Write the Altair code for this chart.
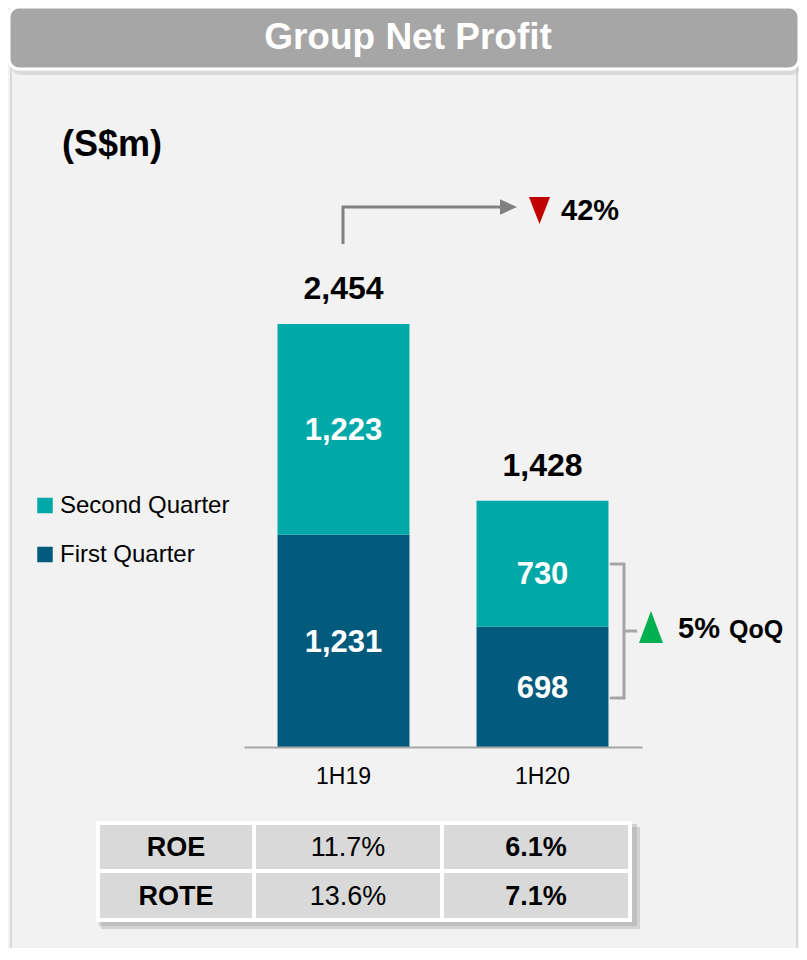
import altair as alt
import pandas as pd

# ---------------- data ----------------
periods = ["1H19", "1H20"]
first_quarter = [1231, 698]
second_quarter = [1223, 730]
totals = [2454, 1428]
series_names = ["Second Quarter", "First Quarter"]
series_colors = ["#00A8A8", "#025A7C"]
table_metrics = ["ROE", "ROTE"]
table_1h19 = ["11.7%", "13.6%"]
table_1h20 = ["6.1%", "7.1%"]
title_text = "Group Net Profit"
unit_text = "(S$m)"
yoy_text = "42%"
qoq_pct = "5%"
qoq_tag = "QoQ"

FONT = "Liberation Sans"

rows = []
for i, p in enumerate(periods):
    rows.append(dict(period=p, series="First Quarter", value=first_quarter[i], start=0))
    rows.append(dict(period=p, series="Second Quarter", value=second_quarter[i], start=first_quarter[i]))
df = pd.DataFrame(rows)
df["end"] = df["start"] + df["value"]
df["mid"] = df["start"] + df["value"] / 2
tot = pd.DataFrame({"period": periods, "total": totals})

# ---------------- layout ----------------
W, H = 398, 431
PAD = {"left": 236, "top": 308, "right": 157, "bottom": 201}


def px(X):
    return X - 8 - PAD["left"]


def py(Y):
    return Y - 8 - PAD["top"]


one = pd.DataFrame({"k": [0]})


def rect(X1, X2, Y1, Y2, **kw):
    return alt.Chart(one).mark_rect(**kw).encode(
        x=alt.value(px(X1)), x2=alt.value(px(X2)), y=alt.value(py(Y1)), y2=alt.value(py(Y2)))


def rule(X1, Y1, X2, Y2, **kw):
    return alt.Chart(one).mark_rule(**kw).encode(
        x=alt.value(px(X1)), y=alt.value(py(Y1)), x2=alt.value(px(X2)), y2=alt.value(py(Y2)))


def text(t, X, Y, **kw):
    kw.setdefault("font", FONT)
    kw.setdefault("baseline", "middle")
    return alt.Chart(one).mark_text(text=t, **kw).encode(x=alt.value(px(X)), y=alt.value(py(Y)))


def shape(path, X, Y, size, color):
    return alt.Chart(one).mark_point(shape=path, size=size, filled=True, color=color,
                                     opacity=1, strokeWidth=0).encode(
        x=alt.value(px(X)), y=alt.value(py(Y)))


layers = []
# panel & header
layers.append(rect(11, 797, 30, 1000, fill="#f2f2f2", fillOpacity=0, stroke="#d8d8d8",
                   strokeWidth=2, cornerRadius=8))
layers.append(rect(11, 801, 11, 75, fill="#c4c4c4", opacity=0.5, cornerRadius=10))
layers.append(rect(9, 799, 7, 69, fill="#a6a6a6", stroke="#ffffff", strokeWidth=3, cornerRadius=10))
layers.append(text(title_text, 408, 38, fontSize=37, fontWeight="bold", color="#ffffff", align="center"))
layers.append(text(unit_text, 62, 145, fontSize=36, fontWeight="bold", color="#000000", align="left"))

# bars
x_enc = alt.X("period:N", sort=periods,
              scale=alt.Scale(paddingInner=0.337, paddingOuter=0.1685),
              axis=alt.Axis(title=None, labelAngle=0, labelFontSize=23, labelFont=FONT,
                            labelColor="#000000", domainColor="#a6a6a6", domainWidth=2,
                            ticks=False, labelPadding=18, grid=False, zindex=1))
y_scale = alt.Scale(domain=[0, 2500], nice=False, zero=True)

bars = alt.Chart(df).mark_bar().encode(
    x=x_enc,
    y=alt.Y("end:Q", scale=y_scale, axis=None),
    y2="start:Q",
    color=alt.Color("series:N", scale=alt.Scale(domain=series_names, range=series_colors),
                    legend=alt.Legend(orient="none", legendX=px(33), legendY=py(493.5), title=None,
                                      symbolType="square", symbolSize=240, symbolStrokeWidth=0,
                                      symbolOpacity=1, labelFontSize=24, labelFont=FONT,
                                      labelColor="#000000", labelOffset=3, rowPadding=25,
                                      labelLimit=400, padding=0)),
)
layers.append(bars)

small_seg = (alt.datum.period == periods[1]) & (alt.datum.series == series_names[0])

seg_labels = alt.Chart(df).transform_filter(~small_seg).mark_text(
    font=FONT, fontSize=31, fontWeight="bold", color="#ffffff", baseline="middle", dy=2).encode(
    x=alt.X("period:N", sort=periods),
    y=alt.Y("mid:Q", scale=y_scale),
    text=alt.Text("value:Q", format=","),
)
layers.append(seg_labels)

seg_labels2 = alt.Chart(df).transform_filter(small_seg).mark_text(
    font=FONT, fontSize=31, fontWeight="bold", color="#ffffff", baseline="middle", dy=11).encode(
    x=alt.X("period:N", sort=periods),
    y=alt.Y("mid:Q", scale=y_scale),
    text=alt.Text("value:Q", format=","),
)
layers.append(seg_labels2)

tot_labels = alt.Chart(tot).mark_text(font=FONT, fontSize=32, fontWeight="bold", color="#000000",
                                      baseline="middle", dy=-35).encode(
    x=alt.X("period:N", sort=periods),
    y=alt.Y("total:Q", scale=y_scale),
    text=alt.Text("total:Q", format=","),
)
layers.append(tot_labels)

# YoY arrow
layers.append(rule(343, 244, 343, 206, color="#808080", strokeWidth=3))
layers.append(rule(342, 207, 502, 207, color="#808080", strokeWidth=3))
layers.append(shape("M-1,-0.9L1,0L-1,0.9Z", 508.5, 207, 289, "#808080"))
layers.append(shape("M-0.78,-1L0.78,-1L0,1Z", 539.5, 210.5, 729, "#C00000"))
layers.append(text(yoy_text, 561, 211, fontSize=29, fontWeight="bold", color="#000000", align="left"))

# QoQ bracket
bc = "#a6a6a6"
layers.append(rule(611, 564, 624, 564, color=bc, strokeWidth=3, strokeCap="round"))
layers.append(rule(624, 564, 624, 698, color=bc, strokeWidth=3, strokeCap="round"))
layers.append(rule(611, 698, 624, 698, color=bc, strokeWidth=3, strokeCap="round"))
layers.append(rule(624, 631, 637, 631, color=bc, strokeWidth=3))
layers.append(shape("M-0.75,1L0.75,1L0,-1Z", 651, 627, 1024, "#00B050"))
layers.append(text(qoq_pct, 678, 638, fontSize=29, fontWeight="bold", color="#000000",
                   align="left", baseline="alphabetic"))
layers.append(text(qoq_tag, 729, 638, fontSize=25, fontWeight="bold", color="#000000",
                   align="left", baseline="alphabetic"))

# table
layers.append(rect(101, 640, 827, 929, fill="#9a9a9a", opacity=0.35))
layers.append(rect(99, 637, 824, 926, fill="#9a9a9a", opacity=0.35))
layers.append(rect(96, 632, 821, 922, fill="#ffffff"))
col_edges = [(100, 252), (256, 440), (444, 628)]
row_edges = [(825, 869), (873, 918)]
for (r1, r2) in row_edges:
    for (c1, c2) in col_edges:
        layers.append(rect(c1, c2, r1, r2, fill="#d9d9d9"))
for r, (r1, r2) in enumerate(row_edges):
    yc = (r1 + r2) / 2 + 1
    cells = [(table_metrics[r], "bold"), (table_1h19[r], "normal"), (table_1h20[r], "bold")]
    for c, (t, w) in enumerate(cells):
        xc = (col_edges[c][0] + col_edges[c][1]) / 2
        layers.append(text(t, xc, yc, fontSize=27, fontWeight=w, color="#000000", align="center"))

chart = alt.layer(*layers).properties(
    width=W, height=H,
    padding=PAD,
    autosize=alt.AutoSizeParams(type="none"),
    background="#f2f2f2",
).configure_view(stroke=None)

chart.save("out.html", embed_options={"renderer": "svg", "actions": False})
